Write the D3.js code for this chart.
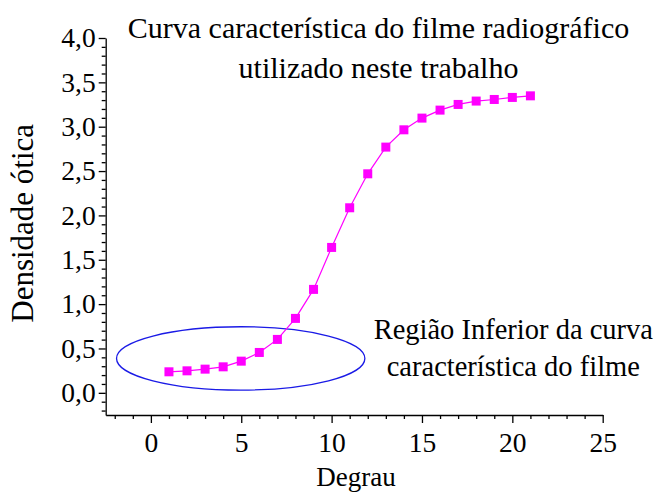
<!DOCTYPE html>
<html><head><meta charset="utf-8">
<script src="https://cdn.jsdelivr.net/npm/d3@7"></script>
</head><body style="margin:0;background:#fff"><svg id="c" width="659" height="494"></svg>
<script>
const degrau = [1,2,3,4,5,6,7,8,9,10,11,12,13,14,15,16,17,18,19,20,21];
const densidade = [0.237,0.248,0.267,0.293,0.357,0.455,0.602,0.839,1.166,1.639,2.086,2.469,2.77,2.965,3.097,3.187,3.251,3.289,3.307,3.33,3.348];
const xTicks = [0,5,10,15,20,25];
const yTicks = [0,0.5,1.0,1.5,2.0,2.5,3.0,3.5,4.0];
const titleLines = ["Curva característica do filme radiográfico","utilizado neste trabalho"];
const noteLines = ["Região Inferior da curva","característica do filme"];
const ellipse = {cx:4.97, cy:0.388, rx:6.87, ry:0.357};

const FONT = "'Liberation Serif'";
const svg = d3.select("#c");
const x = d3.scaleLinear().domain([-2.5,25]).range([105.7,602.7]);
const y = d3.scaleLinear().domain([-0.25,4.0]).range([415,38]);
const fmt = d => d.toFixed(1).replace(".",",");

const xMinor = d3.range(-2,26,1).filter(v=>v%5!==0);
const yMinor = d3.range(-2,40,1).map(v=>v/10).filter(v=>Math.round(v*10)%5!==0);

const gx = svg.append("g").attr("transform","translate(0,415)");
gx.call(d3.axisBottom(x).tickValues(xMinor).tickSize(4).tickFormat("")).call(g=>g.select(".domain").remove());
gx.append("g").call(d3.axisBottom(x).tickValues(xTicks).tickSize(8).tickSizeOuter(0).tickPadding(9).tickFormat(d3.format("d")));
gx.selectAll("path,line").attr("stroke","#000").attr("stroke-width",1.3);

const gy = svg.append("g").attr("transform","translate(105.7,0)");
gy.call(d3.axisLeft(y).tickValues(yMinor).tickSize(4).tickFormat("")).call(g=>g.select(".domain").remove());
gy.append("g").call(d3.axisLeft(y).tickValues(yTicks).tickSize(7).tickSizeOuter(0).tickPadding(3).tickFormat(fmt));
gy.selectAll("path,line").attr("stroke","#000").attr("stroke-width",1.3);
svg.selectAll("g").attr("font-family",null).attr("font-size",null);
svg.selectAll(".tick text").attr("font-family","Liberation Serif").style("font-family",FONT).style("font-size","27.5px").attr("fill","#000");

svg.append("ellipse")
  .attr("cx",x(ellipse.cx)).attr("cy",y(ellipse.cy))
  .attr("rx",x(ellipse.rx)-x(0)).attr("ry",y(0)-y(ellipse.ry))
  .attr("fill","none").attr("stroke","#1a1ae6").attr("stroke-width",1.3);

const pts = degrau.map((d,i)=>[d,densidade[i]]);
svg.append("path").datum(pts)
  .attr("d",d3.line().x(d=>x(d[0])).y(d=>y(d[1])))
  .attr("fill","none").attr("stroke","#ff00ff").attr("stroke-width",1.2);
svg.selectAll("rect.m").data(pts).enter().append("rect").attr("class","m")
  .attr("x",d=>x(d[0])-4.5).attr("y",d=>y(d[1])-4.5).attr("width",9).attr("height",9)
  .attr("fill","#ff00ff");

function txt(){ return svg.append("text").attr("font-family","Liberation Serif").style("font-family",FONT).attr("fill","#000"); }

titleLines.forEach((t,i)=>txt().attr("x",378.5).attr("y",38.3+i*40).attr("text-anchor","middle").style("font-size","30px").text(t));
noteLines.forEach((t,i)=>txt().attr("x",513.3).attr("y",339.3+i*37).attr("text-anchor","middle").style("font-size","28.5px").text(t));

txt().attr("x",356).attr("y",486).attr("text-anchor","middle").style("font-size","27px").text("Degrau");
txt().attr("transform","translate(33.3,223.3) rotate(-90)").attr("text-anchor","middle").style("font-size","31px").text("Densidade ótica");
</script></body></html>
